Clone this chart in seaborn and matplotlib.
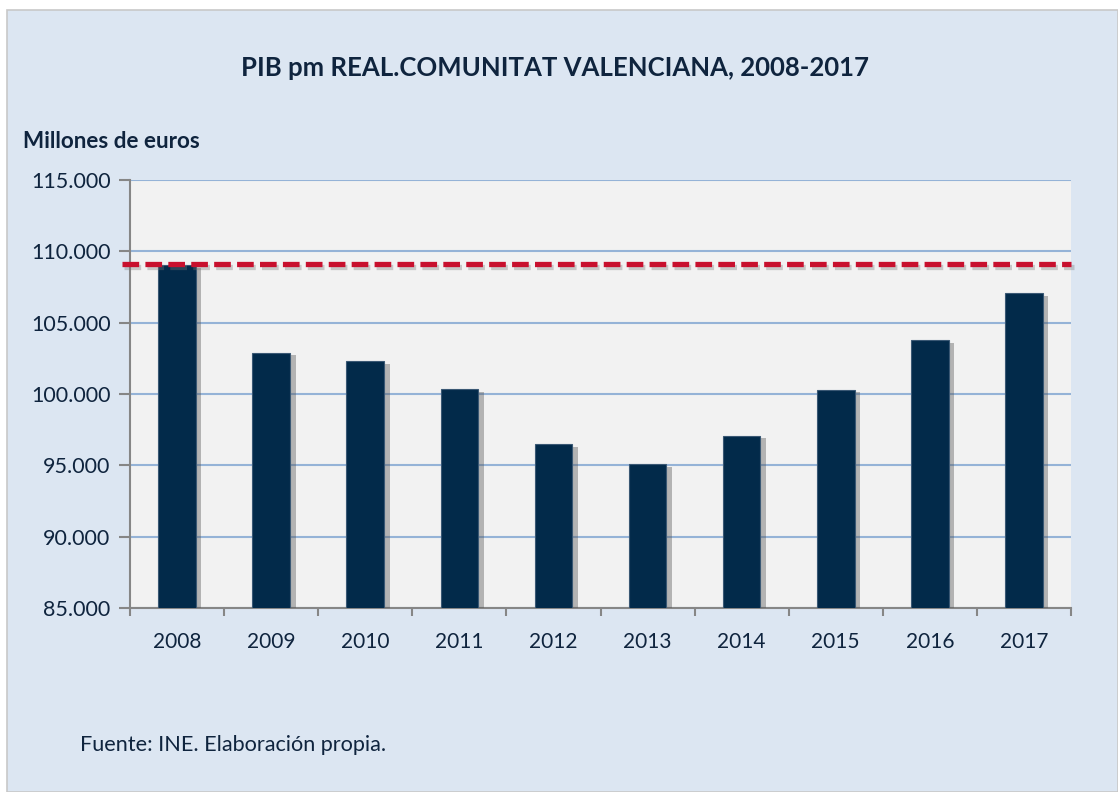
import pandas as pd
import matplotlib.pyplot as plt
import matplotlib.patheffects as pe
from matplotlib.ticker import FuncFormatter, MultipleLocator
from matplotlib.patches import Rectangle
import seaborn as sns

# Data (millones de euros)
years = ["2008", "2009", "2010", "2011", "2012", "2013", "2014", "2015", "2016", "2017"]
pib_real = [109050, 102900, 102320, 100350, 96510, 95070, 97090, 100300, 103770, 107090]
ref_level = 109100  # dashed reference line (2008 level)

NAVY = "#022A4A"
TEXT = "#0F243E"
BG = "#DCE6F2"
PLOT_BG = "#F2F2F2"
GRID = "#95B3D7"
RED = "#C8102E"

sns.set_theme(style="white")
plt.rcParams["font.family"] = ["Lato", "DejaVu Sans"]
plt.rcParams["lines.scale_dashes"] = False

df = pd.DataFrame({"year": years, "pib": pib_real})

fig = plt.figure(figsize=(11.18, 7.92), dpi=100)
fig.patch.set_facecolor("white")
# chart area background with light border
fig.patches.append(Rectangle((7 / 1118, 0), 1 - 7 / 1118, 1 - 10 / 792,
                             transform=fig.transFigure, facecolor=BG,
                             edgecolor="#C8C8C8", linewidth=1.2, zorder=-10))

ax = fig.add_axes([130 / 1118, 1 - 608 / 792, (1071 - 130) / 1118, (608 - 180) / 792])
ax.set_facecolor(PLOT_BG)

sns.barplot(data=df, x="year", y="pib", color=NAVY, width=0.4, saturation=1,
            edgecolor="#3A5874", linewidth=0.8, ax=ax, zorder=3)
for bar in ax.patches:
    bar.set_path_effects([pe.SimplePatchShadow(offset=(4, -2), shadow_rgbFace="#555555", alpha=0.4),
                          pe.Normal()])

ax.set_ylim(85000, 115000)
ax.yaxis.set_major_locator(MultipleLocator(5000))
ax.yaxis.set_major_formatter(FuncFormatter(lambda v, p: f"{v:,.0f}".replace(",", ".")))
ax.grid(axis="y", color=GRID, linewidth=1.5, zorder=0)
ax.set_axisbelow(True)

# reference dashed line
ax.axhline(ref_level, xmin=-0.009, xmax=1.0, color=RED, linewidth=3.8,
           dashes=(12, 4.5), zorder=5, clip_on=False,
           path_effects=[pe.SimpleLineShadow(offset=(2, -2), shadow_color="#777777", alpha=0.35),
                         pe.Normal()])

for s in ["top", "right"]:
    ax.spines[s].set_visible(False)
for s in ["left", "bottom"]:
    ax.spines[s].set_color("#868686")
    ax.spines[s].set_linewidth(1.5)

ax.set_xlabel("")
ax.set_ylabel("")
ax.tick_params(axis="y", which="major", direction="out", length=8, width=1.5,
               color="#868686", labelsize=15.5, labelcolor=TEXT, pad=6, left=True)
# x ticks between categories
ax.set_xticks(range(len(years)))
ax.set_xticklabels(years)
ax.tick_params(axis="x", which="major", length=0, labelsize=15, labelcolor=TEXT, pad=17)
ax.set_xticks([i - 0.5 for i in range(len(years) + 1)], minor=True)
ax.tick_params(axis="x", which="minor", direction="out", length=6, width=1.5,
               color="#868686", bottom=True)
ax.set_xlim(-0.5, len(years) - 0.5)

fig.text(555 / 1118, 1 - 68 / 792, "PIB pm REAL.COMUNITAT VALENCIANA, 2008-2017",
         ha="center", va="center", fontsize=18.5, fontweight="bold", color=TEXT)
fig.text(23 / 1118, 1 - 142 / 792, "Millones de euros", ha="left", va="center",
         fontsize=16.2, fontweight="bold", color=TEXT)
fig.text(80 / 1118, 1 - 745 / 792, "Fuente: INE. Elaboración propia.", ha="left",
         va="center", fontsize=15.6, color=TEXT)

fig.savefig("out.png", dpi=100, facecolor=fig.get_facecolor())
